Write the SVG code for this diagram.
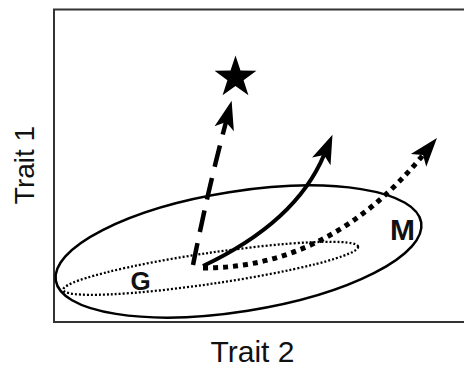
<svg xmlns="http://www.w3.org/2000/svg" width="464" height="367" viewBox="0 0 464 367">
<style>
  .lbl { font-family: "Liberation Sans", Arial, sans-serif; fill: #111; }
  .bold { font-weight: bold; }
  .arrow { fill: none; stroke: #000; stroke-linecap: butt; }
</style>
<defs>
  <marker id="head" markerUnits="userSpaceOnUse" markerWidth="40" markerHeight="40" refX="0" refY="0" orient="auto" overflow="visible">
    <path d="M0,0 L-7,-10 L22,0 L-7,10 Z" fill="#000"/>
  </marker>
</defs>
<rect width="464" height="367" fill="#fff"/>
<g id="frame">
  <path d="M470,9.5 H54 V322 H470" fill="none" stroke="#333" stroke-width="2"/>
</g>
<g id="ellipse-M">
  <ellipse cx="238.5" cy="251.5" rx="185" ry="60" transform="rotate(-9 238.5 251.5)" fill="none" stroke="#000" stroke-width="2.5"/>
  <text class="lbl bold" x="402.5" y="240" font-size="30" text-anchor="middle">M</text>
</g>
<g id="ellipse-G">
  <ellipse cx="210.7" cy="268.3" rx="149" ry="15.5" transform="rotate(-8.35 210.7 268.3)" fill="none" stroke="#000" stroke-width="2.3" stroke-dasharray="2 2"/>
  <text class="lbl bold" x="140.5" y="290" font-size="26" text-anchor="middle">G</text>
</g>
<g id="star">
  <polygon points="235.5,55.5 240.5,70.62 256.42,70.7 243.58,80.13 248.43,95.3 235.5,86 222.57,95.3 227.42,80.13 214.58,70.7 230.5,70.62" fill="#000"/>
</g>
<g id="connectors">
  <path class="arrow" d="M193,265 Q208,190 226,122" stroke-width="4.5" stroke-dasharray="22 11.4" marker-end="url(#head)"/>
  <path class="arrow" d="M203,266 Q296,222 324,155" stroke-width="4" marker-end="url(#head)"/>
  <path class="arrow" d="M203,268 Q330,268 423,155" stroke-width="5" stroke-dasharray="5 5" marker-end="url(#head)"/>
</g>
<g id="axis-labels">
  <text class="lbl" x="252.5" y="362" font-size="30" text-anchor="middle">Trait 2</text>
  <text class="lbl" x="0" y="0" font-size="28" text-anchor="middle" transform="translate(34 165) rotate(-90)">Trait 1</text>
</g>
</svg>
